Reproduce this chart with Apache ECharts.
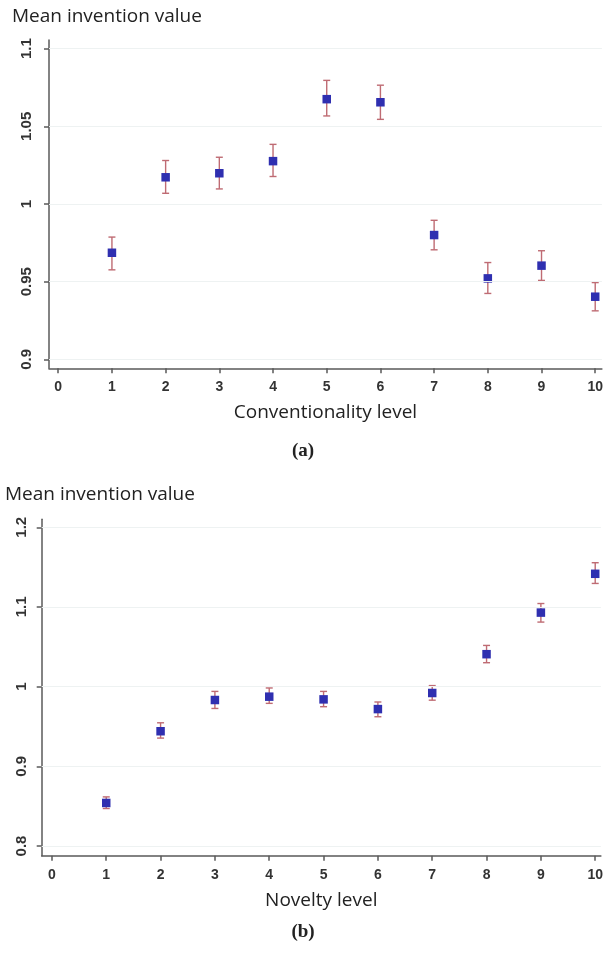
<!DOCTYPE html>
<html>
<head>
<meta charset="utf-8">
<script src="https://cdn.jsdelivr.net/npm/echarts@6/dist/echarts.min.js"></script>
<style>
  html, body { margin: 0; padding: 0; background: #fff; }
  #chart { width: 606px; height: 954px; }
</style>
</head>
<body>
<div id="chart"></div>
<script>
// levels on the x axis
const levels = [1, 2, 3, 4, 5, 6, 7, 8, 9, 10]
const xTicks = [0, 1, 2, 3, 4, 5, 6, 7, 8, 9, 10]

// (a) conventionality
const convMean = [0.9686, 1.0172, 1.0198, 1.0276, 1.0675, 1.0655, 0.980, 0.9521, 0.9603, 0.9403]
const convLow = [0.9576, 1.0069, 1.0097, 1.0177, 1.0567, 1.0545, 0.9705, 0.9424, 0.9508, 0.9312]
const convHigh = [0.9787, 1.0280, 1.0301, 1.0384, 1.0796, 1.0765, 0.9895, 0.9623, 0.9699, 0.9494]
const convTicks = [0.9, 0.95, 1, 1.05, 1.1]

// (b) novelty
const novMean = [0.854, 0.944, 0.9832, 0.9874, 0.984, 0.9718, 0.992, 1.0407, 1.0929, 1.1416]
const novLow = [0.847, 0.9354, 0.9726, 0.979, 0.9748, 0.9622, 0.983, 1.030, 1.081, 1.1295]
const novHigh = [0.8616, 0.9546, 0.994, 0.9983, 0.994, 0.9807, 1.0013, 1.0517, 1.1043, 1.1555]
const novTicks = [0.8, 0.9, 1, 1.1, 1.2]

const markerColor = '#2f2fb0'
const barColor = '#bf6b73'
const axisColor = '#5a5a5a'
const gridColor = '#eef2f2'

function errorBars(idx, low, high) {
  return {
    type: 'custom',
    xAxisIndex: idx,
    yAxisIndex: idx,
    data: levels.map((x, i) => [x, low[i], high[i]]),
    z: 1,
    renderItem(params, api) {
      const top = api.coord([api.value(0), api.value(2)])
      const bot = api.coord([api.value(0), api.value(1)])
      const w = 3.5
      const style = { stroke: barColor, lineWidth: 1.4 }
      return {
        type: 'group',
        children: [
          { type: 'line', shape: { x1: top[0], y1: top[1], x2: bot[0], y2: bot[1] }, style },
          { type: 'line', shape: { x1: top[0] - w, y1: top[1], x2: top[0] + w, y2: top[1] }, style },
          { type: 'line', shape: { x1: bot[0] - w, y1: bot[1], x2: bot[0] + w, y2: bot[1] }, style },
        ],
      }
    },
  }
}

function points(idx, mean) {
  return {
    type: 'scatter',
    xAxisIndex: idx,
    yAxisIndex: idx,
    symbol: 'rect',
    symbolSize: 8.5,
    z: 3,
    itemStyle: { color: markerColor, opacity: 1 },
    data: levels.map((x, i) => [x, mean[i]]),
  }
}

function xAxisFor(idx, min, max, name) {
  return {
    type: 'value',
    gridIndex: idx,
    min, max,
    name,
    nameLocation: 'middle',
    nameGap: 35,
    nameTextStyle: { fontFamily: 'Open Sans', fontSize: 19, color: '#222' },
    axisLine: { onZero: false, lineStyle: { color: axisColor, width: 1.5 } },
    axisTick: { customValues: xTicks, length: 5, lineStyle: { color: axisColor, width: 1.5 } },
    axisLabel: {
      customValues: xTicks, margin: 12,
      fontFamily: 'Liberation Sans', fontWeight: 'bold', fontSize: 14, color: '#333',
    },
    splitLine: { show: false },
  }
}

function yAxisFor(idx, min, max, ticks, margin) {
  return {
    type: 'value',
    gridIndex: idx,
    min, max,
    axisLine: { show: true, onZero: false, lineStyle: { color: axisColor, width: 1.5 } },
    axisTick: { show: true, customValues: ticks, length: 5, lineStyle: { color: axisColor, width: 1.5 } },
    axisLabel: {
      customValues: ticks, rotate: 90, margin,
      fontFamily: 'Liberation Sans', fontWeight: 'bold', fontSize: 15, color: '#333',
    },
    splitLine: { show: false },
  }
}

function gridLines(idx, ticks) {
  return {
    type: 'line',
    xAxisIndex: idx,
    yAxisIndex: idx,
    data: [],
    silent: true,
    markLine: {
      symbol: 'none',
      silent: true,
      label: { show: false },
      lineStyle: { color: gridColor, width: 1.2, type: 'solid' },
      data: ticks.map(t => ({ yAxis: t })),
    },
  }
}

const chart = echarts.init(document.getElementById('chart'), null, { renderer: 'canvas' })
chart.setOption({
  animation: false,
  backgroundColor: '#fff',
  title: [
    { text: 'Mean invention value', left: 7, top: 2, textStyle: { fontFamily: 'Open Sans', fontSize: 19, fontWeight: 'normal', color: '#222' } },
    { text: '(a)', left: 'center', top: 437, textStyle: { fontFamily: 'Liberation Serif', fontSize: 19, fontWeight: 'bold', color: '#222' } },
    { text: 'Mean invention value', left: 0, top: 480, textStyle: { fontFamily: 'Open Sans', fontSize: 19, fontWeight: 'normal', color: '#222' } },
    { text: '(b)', left: 'center', top: 918, textStyle: { fontFamily: 'Liberation Serif', fontSize: 19, fontWeight: 'bold', color: '#222' } },
  ],
  grid: [
    { left: 49, right: 1, top: 40, height: 328.3 },
    { left: 41.7, right: 1, top: 519.3, height: 336.4 },
  ],
  xAxis: [
    xAxisFor(0, -0.172, 10.124, 'Conventionality level'),
    xAxisFor(1, -0.188, 10.104, 'Novelty level'),
  ],
  yAxis: [
    yAxisFor(0, 0.8942, 1.1056, convTicks, 15),
    yAxisFor(1, 0.7878, 1.2100, novTicks, 12),
  ],
  series: [
    gridLines(0, convTicks),
    gridLines(1, novTicks),
    errorBars(0, convLow, convHigh),
    errorBars(1, novLow, novHigh),
    points(0, convMean),
    points(1, novMean),
  ],
})
</script>
</body>
</html>
